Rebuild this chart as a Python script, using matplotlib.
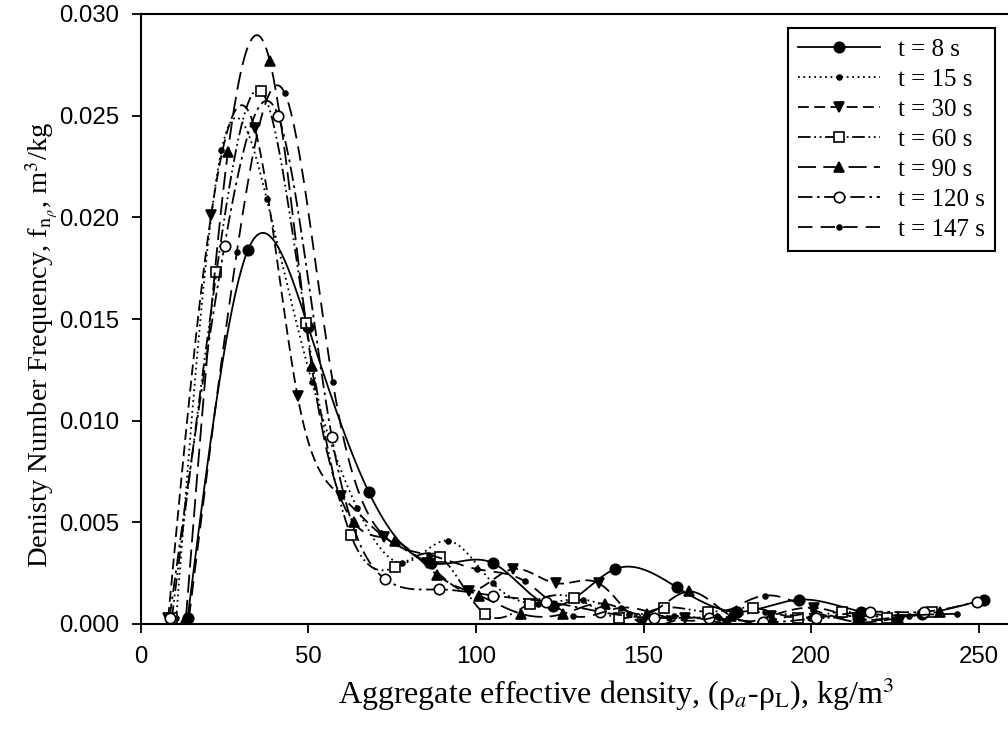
import numpy as np
import matplotlib
matplotlib.use("Agg")
import matplotlib.pyplot as plt

# marker points: density (kg/m3) vs number frequency (m3/kg)
x_8 = [14, 32, 50, 68, 86.5, 105, 123, 141.5, 160, 178, 196.5, 215, 233, 251.5]
y_8 = [0.0003, 0.0184, 0.0146, 0.0065, 0.0030, 0.0030, 0.0009, 0.0027, 0.0018,
       0.0006, 0.0012, 0.0006, 0.0005, 0.0012]

x_15 = [10.6, 24.1, 37.6, 51.1, 64.6, 78.1, 91.6, 105.1, 118.6, 132.1, 145.6,
        159.1, 172.6, 186.1, 199.6, 213.1, 226.6]
y_15 = [0.0003, 0.0233, 0.0209, 0.0119, 0.0057, 0.0030, 0.0041, 0.0020, 0.0010,
        0.0012, 0.0005, 0.0004, 0.0003, 0.0006, 0.0003, 0.0004, 0.0003]

x_30 = [8.2, 21, 34, 46.8, 59.7, 72.5, 85.3, 98, 111, 124, 136.7, 149.5, 162.3,
        175, 188, 201, 213.7, 226.5]
y_30 = [0.0003, 0.0201, 0.0244, 0.0112, 0.0063, 0.0043, 0.0030, 0.0016, 0.0027,
        0.0020, 0.0020, 0.0000, 0.0003, 0.0000, 0.0004, 0.0008, 0.0003, 0.0002]

x_60 = [9.3, 22.6, 36, 49.3, 62.6, 76, 89.3, 102.6, 116, 129.3, 142.6, 156,
        169.3, 182.6, 196, 209.3, 222.6, 236]
y_60 = [0.0003, 0.0173, 0.0262, 0.0148, 0.0044, 0.0028, 0.0033, 0.0005, 0.0010,
        0.0013, 0.0003, 0.0008, 0.0006, 0.0008, 0.0003, 0.0006, 0.0003, 0.0006]

x_90 = [13.5, 26, 38.5, 51, 63.5, 76, 88.5, 101, 113.5, 126, 138.5, 151, 163.5,
        176, 188.5, 201, 213.5, 226, 238.5]
y_90 = [0.0003, 0.0232, 0.0277, 0.0127, 0.0050, 0.0041, 0.0024, 0.0014, 0.0005,
        0.0005, 0.0010, 0.0005, 0.0016, 0.0004, 0.0002, 0.0005, 0.0001, 0.0003, 0.0006]

x_120 = [8.6, 25, 41, 57, 73, 89, 105, 121, 137, 153, 169.5, 185.7, 201.5, 217.5,
         233.7, 249.6]
y_120 = [0.0003, 0.0186, 0.0250, 0.0092, 0.0022, 0.0017, 0.0014, 0.0011, 0.0006,
         0.0003, 0.0003, 0.0001, 0.0003, 0.0006, 0.0006, 0.0011]

x_147 = [14.4, 28.7, 43, 57.3, 71.6, 86, 100.3, 114.6, 129, 143.3, 157.6, 172,
         186.3, 200.6, 215, 229.3, 243.6]
y_147 = [0.0003, 0.0183, 0.0261, 0.0119, 0.0045, 0.0034, 0.0027, 0.0021, 0.0004,
         0.0008, 0.0003, 0.0004, 0.0014, 0.0007, 0.0002, 0.0004, 0.0005]

labels = ['t = 8 s', 't = 15 s', 't = 30 s', 't = 60 s', 't = 90 s', 't = 120 s', 't = 147 s']


def spline(x, y, n=500):
    # natural cubic spline through the points (like the SigmaPlot spline curve)
    x = np.asarray(x, float)
    y = np.asarray(y, float)
    h = np.diff(x)
    m = len(x)
    A = np.zeros((m, m))
    b = np.zeros(m)
    A[0, 0] = A[-1, -1] = 1
    for i in range(1, m - 1):
        A[i, i - 1] = h[i - 1]
        A[i, i] = 2 * (h[i - 1] + h[i])
        A[i, i + 1] = h[i]
        b[i] = 6 * ((y[i + 1] - y[i]) / h[i] - (y[i] - y[i - 1]) / h[i - 1])
    M = np.linalg.solve(A, b)
    xs = np.linspace(x[0], x[-1], n)
    k = np.clip(np.searchsorted(x, xs) - 1, 0, m - 2)
    t0 = x[k + 1] - xs
    t1 = xs - x[k]
    hk = h[k]
    ys = (M[k] * t0**3 / (6 * hk) + M[k + 1] * t1**3 / (6 * hk)
          + (y[k] / hk - M[k] * hk / 6) * t0 + (y[k + 1] / hk - M[k + 1] * hk / 6) * t1)
    return xs, ys


series = [(x_8, y_8), (x_15, y_15), (x_30, y_30), (x_60, y_60),
          (x_90, y_90), (x_120, y_120), (x_147, y_147)]
styles = [
    dict(ls='-', marker='o', ms=7.5, mfc='black'),
    dict(ls=(0, (1, 2)), marker='o', ms=3.5, mfc='black'),
    dict(ls=(0, (6, 3)), marker='v', ms=7.5, mfc='black'),
    dict(ls=(0, (7, 2, 1, 2, 1, 2)), marker='s', ms=6.5, mfc='white'),
    dict(ls=(0, (10, 4)), marker='^', ms=7.5, mfc='black'),
    dict(ls=(0, (8, 2.5, 1.5, 2.5)), marker='o', ms=7.5, mfc='white'),
    dict(ls=(0, (8, 4.5)), marker='o', ms=3.5, mfc='black'),
]

plt.rcParams['mathtext.fontset'] = 'stix'

fig = plt.figure(figsize=(10.08, 7.29), dpi=100)
# axes: x=0 at 140.7 px, 3.352 px per unit; y from 624 (0) to 14 (0.030)
ax = fig.add_axes([140.7 / 1008, 105 / 729, 260 * 3.352 / 1008, 610 / 729])

for (xv, yv), st, lab in zip(series, styles, labels):
    xs, ys = spline(xv, yv)
    ax.plot(xs, ys, color='black', lw=1.3, ls=st['ls'])
    ax.plot(xv, yv, ls='none', marker=st['marker'], ms=st['ms'],
            mfc=st['mfc'], mec='black', mew=1.2)
    ax.plot([], [], color='black', lw=1.3, ls=st['ls'], marker=st['marker'],
            ms=st['ms'], mfc=st['mfc'], mec='black', mew=1.2, label=lab)

ax.set_xlim(0, 260)
ax.set_ylim(0, 0.030)
ax.set_xticks([0, 50, 100, 150, 200, 250])
ax.set_yticks(np.arange(0, 0.0301, 0.005))
ax.set_yticklabels(['%.3f' % v for v in np.arange(0, 0.0301, 0.005)])
ax.spines['right'].set_visible(False)
for s in ['left', 'bottom', 'top']:
    ax.spines[s].set_linewidth(1.5)
ax.tick_params(direction='out', length=6.5, width=1.3, labelsize=17.3)
ax.tick_params(axis='x', pad=9)
ax.tick_params(axis='y', pad=9)
for lbl in ax.get_xticklabels() + ax.get_yticklabels():
    lbl.set_fontfamily('Liberation Sans')

ax.set_xlabel('Aggregate effective density, (ρ$_a$-ρ$_{\\mathrm{L}}$), kg/m$^3$',
              fontfamily='Liberation Serif', fontsize=23)
ax.set_ylabel('Denisty Number Frequency, f$_{\\mathrm{n}_{\\rho}}$, m$^3$/kg',
              fontfamily='Liberation Serif', fontsize=20.5)
# label positions: x label centred at ~616 px, y label right edge at ~60 px
ax.xaxis.set_label_coords((616 - 140.7) / (260 * 3.352), -0.085)
ax.yaxis.set_label_coords((60 - 140.7) / (260 * 3.352), 1 - (345 - 14) / 610)

leg = ax.legend(loc='upper right', bbox_to_anchor=(0.980, 0.977), borderaxespad=0,
                prop={'family': 'Liberation Serif', 'size': 18},
                handlelength=3.3, labelspacing=0.3, borderpad=0.4,
                handletextpad=0.7, fancybox=False, framealpha=1)
leg.get_frame().set_edgecolor('black')
leg.get_frame().set_linewidth(1.5)

fig.savefig('out.png', dpi=100)
